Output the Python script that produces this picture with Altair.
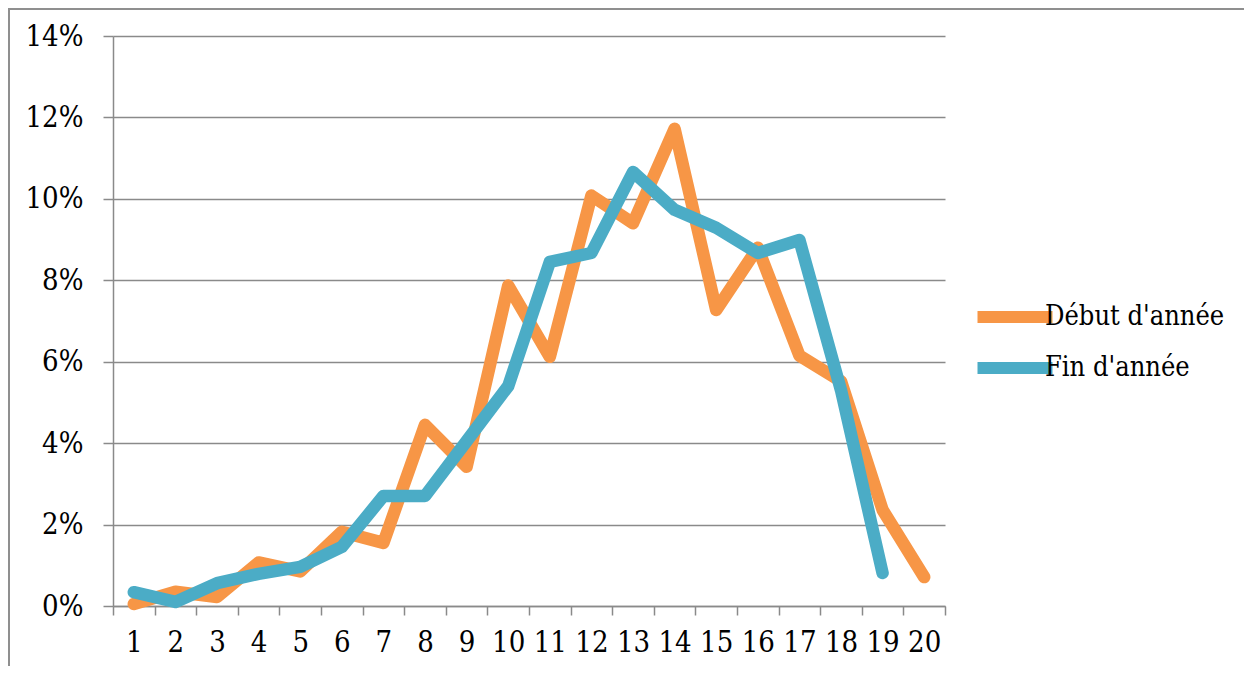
import altair as alt
import pandas as pd

categories = [str(i) for i in range(1, 21)]
debut = [0.0005, 0.0035, 0.0022, 0.0107, 0.0085, 0.0182, 0.0155, 0.0445, 0.0342, 0.0787,
         0.0612, 0.1008, 0.0940, 0.1172, 0.0727, 0.0880, 0.0615, 0.0552, 0.0236, 0.0071]
fin = [0.0034, 0.0010, 0.0056, 0.0079, 0.0096, 0.0145, 0.0270, 0.0270, 0.0405, 0.0540,
       0.0845, 0.0867, 0.1066, 0.0973, 0.0929, 0.0867, 0.0899, 0.0530, 0.0081]
series_names = ["Début d'année", "Fin d'année"]
series_colors = ["#F79646", "#4BACC6"]
y_ticks = [0, 0.02, 0.04, 0.06, 0.08, 0.10, 0.12, 0.14]

rows = []
for c, v in zip(categories, debut):
    rows.append({"cat": c, "val": v, "serie": series_names[0]})
for c, v in zip(categories, fin):
    rows.append({"cat": c, "val": v, "serie": series_names[1]})
df = pd.DataFrame(rows)

FONT = "DejaVu Serif Condensed"
GRID = "#8a8a8a"

lines = alt.Chart(df).mark_line(
    strokeWidth=12.5, strokeCap="round", strokeJoin="round"
).encode(
    x=alt.X("cat:N", sort=categories,
            scale=alt.Scale(type="band", paddingInner=0, paddingOuter=0),
            axis=alt.Axis(title=None, labelAngle=0, tickBand="extent", grid=False,
                          domainColor=GRID, domainWidth=1.5, tickColor=GRID,
                          tickWidth=1.5, tickSize=9, labelPadding=13,
                          labelFont=FONT, labelFontSize=29, labelColor="black")),
    y=alt.Y("val:Q", scale=alt.Scale(domain=[0, 0.14], nice=False),
            axis=alt.Axis(title=None, values=y_ticks, format=".0%", grid=True,
                          gridColor=GRID, gridWidth=1.5, domainColor=GRID,
                          domainWidth=1.5, tickColor=GRID, tickWidth=1.5,
                          tickSize=10, labelPadding=20, labelFont=FONT,
                          labelFontSize=29, labelColor="black")),
    color=alt.Color("serie:N", sort=series_names,
                    scale=alt.Scale(domain=series_names, range=series_colors),
                    legend=alt.Legend(title=None, orient="none", legendX=881,
                                      legendY=260, symbolType="M-2.5,0H2.5",
                                      symbolSize=900, symbolStrokeWidth=12,
                                      labelFont=FONT, labelFontSize=27,
                                      labelColor="black", labelOffset=9,
                                      rowPadding=3, labelLimit=400)),
)

border_df = pd.DataFrame({"k": [0]})
left_border = alt.Chart(border_df).mark_rule(color="#8f8f8f", strokeWidth=2).encode(
    x=alt.value(-104), y=alt.value(-28), y2=alt.value(640)
)
top_border = alt.Chart(border_df).mark_rule(color="#8f8f8f", strokeWidth=2).encode(
    x=alt.value(-104), x2=alt.value(1140), y=alt.value(-27)
)

chart = alt.layer(left_border, top_border, lines).properties(
    width=832, height=570,
    padding={"left": 105, "top": 28, "right": 299, "bottom": 60},
    autosize=alt.AutoSizeParams(type="none"),
).configure_view(stroke=None)

chart.save("out.html", embed_options={"renderer": "svg", "actions": False})
